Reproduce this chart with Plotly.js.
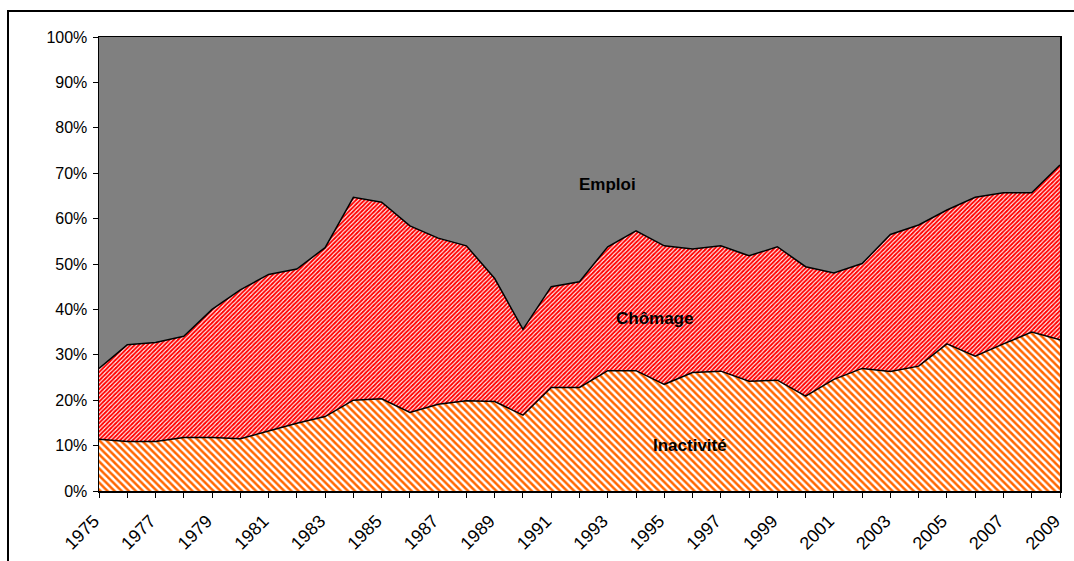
<!DOCTYPE html>
<html>
<head>
<meta charset="utf-8">
<script src="https://cdn.plot.ly/plotly-3.0.1.min.js"></script>
<style>
  html, body { margin: 0; padding: 0; background: #fff; }
  #wrap { position: relative; width: 1074px; height: 561px; overflow: hidden; }
  #chart { width: 1074px; height: 561px; }
  #frame { position: absolute; left: 7px; top: 10px; width: 1100px; height: 600px;
           border-left: 2px solid #000; border-top: 2px solid #000; pointer-events: none; }
</style>
</head>
<body>
<div id="wrap">
  <div id="chart"></div>
  <div id="frame"></div>
</div>
<script>
const years = [1975,1976,1977,1978,1979,1980,1981,1982,1983,1984,1985,1986,1987,1988,1989,1990,1991,1992,1993,1994,1995,1996,1997,1998,1999,2000,2001,2002,2003,2004,2005,2006,2007,2008,2009];
// inactivité share (bottom band)
const inactivite = [11.4,10.9,10.9,11.8,11.8,11.5,13.2,14.9,16.4,20.0,20.3,17.3,19.1,19.9,19.7,16.7,22.8,22.8,26.5,26.5,23.5,26.1,26.4,24.2,24.4,20.9,24.6,27.0,26.3,27.5,32.4,29.7,32.4,35.0,33.3];
// chômage band thickness
const chomage = [15.6,21.3,21.8,22.3,28.2,32.8,34.5,34.0,37.2,44.7,43.3,41.1,36.6,34.1,27.1,18.9,22.2,23.3,27.3,30.8,30.5,27.2,27.6,27.6,29.4,28.5,23.4,23.1,30.2,31.1,29.5,35.0,33.3,30.7,38.5];
// emploi band thickness
const emploi = [73.0,67.8,67.3,65.9,60.0,55.7,52.3,51.1,46.4,35.3,36.4,41.6,44.3,46.0,53.2,64.4,55.0,53.9,46.2,42.7,46.0,46.7,46.0,48.2,46.2,50.6,52.0,49.9,43.5,41.4,38.1,35.3,34.3,34.3,28.2];
const seriesNames = ['Inactivité','Chômage','Emploi'];

const traces = [
  {
    x: years, y: inactivite, name: seriesNames[0], type: 'scatter', mode: 'lines',
    stackgroup: 'one', line: {color: '#000', width: 1.5},
    fillcolor: '#ffffff',
    fillpattern: {shape: '\\', fgcolor: '#FF6600', bgcolor: '#ffffff', size: 5, solidity: 0.5},
    hoverinfo: 'skip'
  },
  {
    x: years, y: chomage, name: seriesNames[1], type: 'scatter', mode: 'lines',
    stackgroup: 'one', line: {color: '#000', width: 1.5},
    fillcolor: '#ffffff',
    fillpattern: {shape: '/', fgcolor: '#FF0000', bgcolor: '#ffffff', size: 3, solidity: 0.65},
    hoverinfo: 'skip'
  },
  {
    x: years, y: emploi, name: seriesNames[2], type: 'scatter', mode: 'lines',
    stackgroup: 'one', line: {color: '#808080', width: 0},
    fillcolor: '#808080',
    hoverinfo: 'skip'
  }
];

const font = {family: 'Liberation Sans, Arial, sans-serif', size: 16, color: '#000'};
const xFont = {family: 'Liberation Sans, Arial, sans-serif', size: 18, color: '#000'};
const labelFont = {family: 'Liberation Sans, Arial, sans-serif', size: 17, color: '#000'};

const layout = {
  width: 1074, height: 561,
  margin: {l: 99, r: 14, t: 37, b: 70},
  paper_bgcolor: '#fff', plot_bgcolor: '#fff',
  showlegend: false,
  font: font,
  xaxis: {
    range: [1975, 2009], tick0: 1975, dtick: 2, tickangle: -45,
    ticks: 'outside', ticklen: 5, tickcolor: '#000', tickwidth: 1,
    ticklabelstandoff: 6, ticklabelshift: -5,
    minor: {dtick: 1, ticks: 'outside', ticklen: 5, tickcolor: '#000', tickwidth: 1},
    showgrid: false, zeroline: false,
    showline: true, linecolor: '#000', linewidth: 1.5, mirror: true,
    tickfont: xFont, fixedrange: true
  },
  yaxis: {
    range: [0, 100], dtick: 10, ticksuffix: '%',
    ticks: 'outside', ticklen: 5, tickcolor: '#000', tickwidth: 1,
    ticklabelstandoff: 2,
    showgrid: false, zeroline: false,
    showline: true, linecolor: '#000', linewidth: 1.5, mirror: true,
    tickfont: font, fixedrange: true
  },
  annotations: [
    {x: 1993.0, y: 67.6, text: '<b>Emploi</b>', showarrow: false, font: labelFont},
    {x: 1994.65, y: 38.1, text: '<b>Chômage</b>', showarrow: false, font: labelFont},
    {x: 1995.9, y: 10.1, text: '<b>Inactivité</b>', showarrow: false, font: labelFont}
  ]
};

Plotly.newPlot('chart', traces, layout, {displayModeBar: false, staticPlot: true});
</script>
</body>
</html>
